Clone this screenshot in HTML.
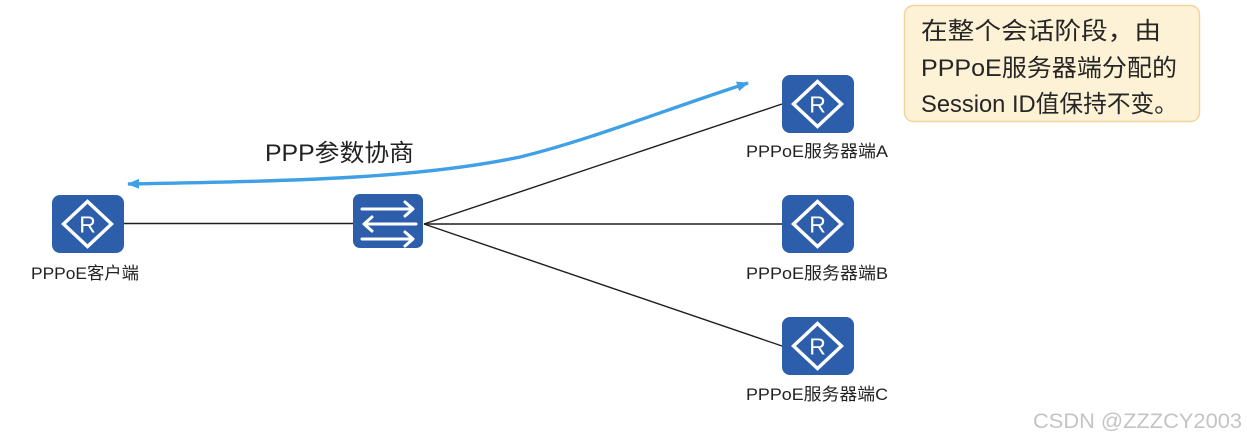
<!DOCTYPE html>
<html>
<head>
<meta charset="utf-8">
<style>
  html, body { margin: 0; padding: 0; background: #ffffff; }
  body { width: 1247px; height: 441px; overflow: hidden; }
  svg { display: block; }
  text { font-family: "Liberation Sans", "Noto Sans CJK SC", sans-serif; }
</style>
</head>
<body>
<svg width="1247" height="441" viewBox="0 0 1247 441" xmlns="http://www.w3.org/2000/svg">
  <defs>
    <marker id="ah" viewBox="0 0 12 10" refX="11" refY="5" markerWidth="12" markerHeight="10" markerUnits="userSpaceOnUse" orient="auto-start-reverse">
      <path d="M0,0 L12,5 L0,10 z" fill="#40a0e6"/>
    </marker>
    <g id="router">
      <rect x="0" y="0" width="72" height="58" rx="8" ry="8" fill="#2c5eab"/>
      <path d="M35.5,6.5 L59.5,29 L35.5,51.5 L11.5,29 Z" fill="none" stroke="#ffffff" stroke-width="3.4" stroke-linejoin="miter"/>
      <text x="35.5" y="37.5" font-size="23" fill="#ffffff" text-anchor="middle">R</text>
    </g>
  </defs>

  <!-- connection lines -->
  <g stroke="#1e1e1e" stroke-width="1.4" fill="none">
    <line x1="123" y1="223.5" x2="353" y2="223.5"/>
    <line x1="424" y1="224" x2="782" y2="104"/>
    <line x1="424" y1="224" x2="782" y2="224"/>
    <line x1="424" y1="224" x2="782" y2="346"/>
  </g>

  <!-- blue negotiation arrow -->
  <path d="M128,184 C300,181 420,178 520,157 C590,140 670,108 748,83" fill="none" stroke="#40a0e6" stroke-width="3.4" marker-start="url(#ah)" marker-end="url(#ah)"/>

  <!-- routers -->
  <use href="#router" x="52" y="195"/>
  <use href="#router" x="782" y="75"/>
  <use href="#router" x="782" y="195"/>
  <use href="#router" x="782" y="317"/>

  <!-- switch -->
  <rect x="353" y="194" width="70" height="54" rx="7" ry="7" fill="#2c5eab"/>
  <g stroke="#ffffff" stroke-width="3" fill="none" stroke-linecap="round" stroke-linejoin="round">
    <line x1="362" y1="209" x2="412" y2="209"/>
    <polyline points="405,202 413,209 405,216"/>
    <line x1="365" y1="224" x2="416" y2="224"/>
    <polyline points="372,217 364,224 372,231"/>
    <line x1="362" y1="239" x2="412" y2="239"/>
    <polyline points="405,232 413,239 405,246"/>
  </g>

  <!-- labels -->
  <g fill="#222222" font-size="17">
    <text x="85" y="279" text-anchor="middle" textLength="108" lengthAdjust="spacingAndGlyphs">PPPoE客户端</text>
    <text x="817" y="157" text-anchor="middle" textLength="142" lengthAdjust="spacingAndGlyphs">PPPoE服务器端A</text>
    <text x="817" y="279" text-anchor="middle" textLength="142" lengthAdjust="spacingAndGlyphs">PPPoE服务器端B</text>
    <text x="817" y="400" text-anchor="middle" textLength="142" lengthAdjust="spacingAndGlyphs">PPPoE服务器端C</text>
  </g>

  <text x="265" y="161" font-size="24" fill="#222222" textLength="149" lengthAdjust="spacingAndGlyphs">PPP参数协商</text>

  <!-- callout -->
  <rect x="904.5" y="5.5" width="295" height="116" rx="9" ry="9" fill="#fdf2d6" stroke="#f3d49c" stroke-width="1.5"/>
  <g fill="#262626" font-size="24">
    <text x="921" y="39" textLength="240" lengthAdjust="spacingAndGlyphs">在整个会话阶段，由</text>
    <text x="921" y="76" textLength="256" lengthAdjust="spacingAndGlyphs">PPPoE服务器端分配的</text>
    <text x="921" y="112" textLength="257" lengthAdjust="spacingAndGlyphs">Session ID值保持不变。</text>
  </g>

  <!-- watermark -->
  <text x="1033" y="428" font-size="21" fill="#c4c4c4" textLength="209" lengthAdjust="spacingAndGlyphs">CSDN @ZZZCY2003</text>
</svg>
</body>
</html>
